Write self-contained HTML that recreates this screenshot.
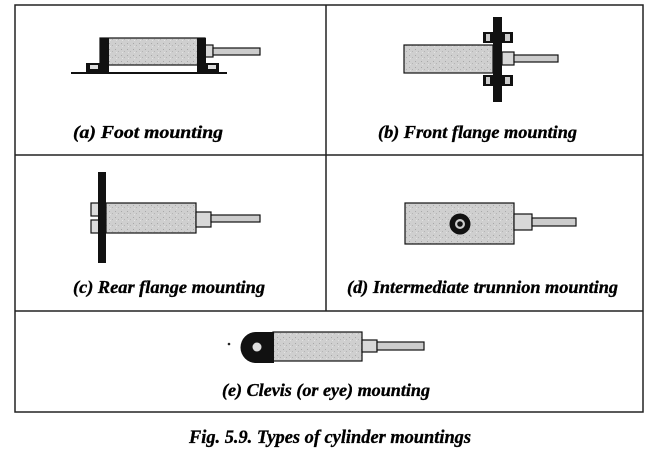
<!DOCTYPE html>
<html><head><meta charset="utf-8"><style>
html,body{margin:0;padding:0;background:#fff;}
svg{display:block;}
text{font-family:"Liberation Serif",serif;font-weight:bold;font-style:italic;fill:#000;stroke:#000;stroke-width:0.35;}
</style></head><body>
<svg width="656" height="453" viewBox="0 0 656 453" xmlns="http://www.w3.org/2000/svg">
<defs>
<pattern id="sp" width="6" height="6" patternUnits="userSpaceOnUse">
<rect width="6" height="6" fill="#cfcfcf"/>
<rect x="1" y="1" width="1" height="1" fill="#a8a8a8"/>
<rect x="4" y="3" width="1" height="1" fill="#b4b4b4"/>
<rect x="2" y="4" width="1" height="1" fill="#e2e2e2"/>
</pattern>
</defs>
<!-- frame -->
<g stroke="#222" stroke-width="1.5" fill="none">
<rect x="15" y="5" width="628" height="407"/>
<line x1="15" y1="155" x2="643" y2="155"/>
<line x1="15" y1="311" x2="643" y2="311"/>
<line x1="326" y1="5" x2="326" y2="311"/>
</g>

<!-- (a) foot mounting -->
<g stroke="#111" stroke-width="1.2">
<rect x="100" y="38" width="105" height="27" fill="url(#sp)"/>
<rect x="205" y="45" width="8" height="12" fill="#d8d8d8"/>
<rect x="213" y="48" width="47" height="7" fill="#ccc"/>
</g>
<rect x="100" y="38" width="9" height="35" fill="#111"/>
<rect x="197" y="38" width="9" height="35" fill="#111"/>
<rect x="86" y="63" width="23" height="10" fill="#111"/>
<rect x="90" y="65" width="8" height="4" fill="#ddd"/>
<rect x="197" y="63" width="22" height="10" fill="#111"/>
<rect x="208" y="65" width="8" height="4" fill="#ddd"/>
<rect x="71" y="72" width="156" height="2" fill="#111"/>
<text x="73" y="138" font-size="18" textLength="150" lengthAdjust="spacingAndGlyphs">(a) Foot mounting</text>

<!-- (b) front flange -->
<g stroke="#111" stroke-width="1.2">
<rect x="404" y="45" width="89" height="28" fill="url(#sp)"/>
<rect x="502" y="52" width="12" height="13" fill="#d8d8d8"/>
<rect x="514" y="55" width="44" height="7" fill="#ccc"/>
</g>
<rect x="493" y="17" width="9" height="85" fill="#111"/>
<rect x="483" y="32" width="30" height="11" fill="#111"/>
<rect x="486" y="34" width="4" height="7" fill="#ccc"/>
<rect x="505" y="34" width="5" height="7" fill="#ccc"/>
<rect x="483" y="75" width="30" height="11" fill="#111"/>
<rect x="486" y="77" width="4" height="7" fill="#ccc"/>
<rect x="505" y="77" width="5" height="7" fill="#ccc"/>
<text x="378" y="138" font-size="18" textLength="199" lengthAdjust="spacingAndGlyphs">(b) Front flange mounting</text>

<!-- (c) rear flange -->
<g stroke="#111" stroke-width="1.2">
<rect x="106" y="203" width="90" height="30" fill="url(#sp)"/>
<rect x="196" y="212" width="15" height="15" fill="#d8d8d8"/>
<rect x="211" y="215" width="49" height="7" fill="#ccc"/>
<rect x="91" y="203" width="8" height="13" fill="#ddd"/>
<rect x="91" y="220" width="8" height="13" fill="#ddd"/>
</g>
<rect x="98" y="172" width="8" height="91" fill="#111"/>
<text x="73" y="293" font-size="18" textLength="192" lengthAdjust="spacingAndGlyphs">(c) Rear flange mounting</text>

<!-- (d) trunnion -->
<g stroke="#111" stroke-width="1.2">
<rect x="405" y="203" width="109" height="41" fill="url(#sp)"/>
<rect x="514" y="214" width="18" height="16" fill="#d8d8d8"/>
<rect x="532" y="218" width="44" height="8" fill="#ccc"/>
</g>
<circle cx="460" cy="224" r="10.5" fill="#111"/>
<circle cx="460" cy="224" r="5" fill="#ccc"/>
<circle cx="460" cy="224" r="2.8" fill="#111"/>
<text x="347" y="293" font-size="18" textLength="271" lengthAdjust="spacingAndGlyphs">(d) Intermediate trunnion mounting</text>

<!-- (e) clevis -->
<g stroke="#111" stroke-width="1.2">
<rect x="273" y="332" width="89" height="29" fill="url(#sp)"/>
<rect x="362" y="340" width="15" height="12" fill="#d8d8d8"/>
<rect x="377" y="342" width="47" height="8" fill="#ccc"/>
</g>
<path d="M256 332 H274 V363 H256 A15.5 15.5 0 0 1 256 332 Z" fill="#111"/>
<circle cx="257" cy="347" r="4.5" fill="#ddd"/>
<circle cx="229" cy="344" r="1.3" fill="#222"/>
<text x="222" y="396" font-size="18" textLength="208" lengthAdjust="spacingAndGlyphs">(e) Clevis (or eye) mounting</text>

<!-- caption -->
<text x="189" y="443" font-size="19" textLength="282" lengthAdjust="spacingAndGlyphs">Fig. 5.9. Types of cylinder mountings</text>
</svg>
</body></html>
